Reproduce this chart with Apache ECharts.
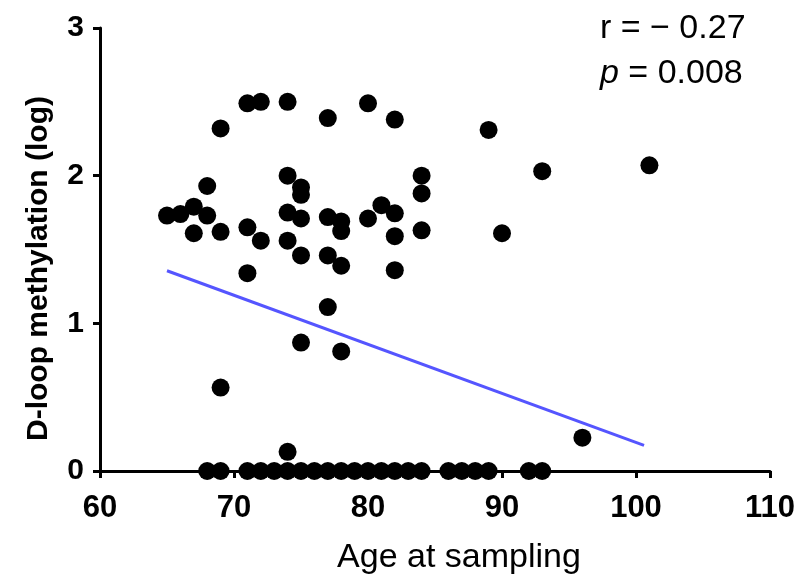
<!DOCTYPE html>
<html><head><meta charset="utf-8">
<script src="https://cdn.jsdelivr.net/npm/echarts@6/dist/echarts.min.js"></script>
<style>html,body{margin:0;padding:0;background:#fff}#c{width:798px;height:575px}</style>
</head><body><div id="c"></div>
<script>
const ages = [71,72,74,69,77,80,82,89,93,101,
  68,74,75,75,84,84,81,82,80,
  65,66,67,68,67,69,71,72,74,75,74,75,77,78,78,77,78,71,77,75,78,69,74,
  84,82,82,90,96,
  68,69,71,72,73,74,75,76,77,78,79,80,81,82,83,84,86,87,88,89,92,93];
const methylation = [2.49,2.50,2.50,2.32,2.39,2.49,2.38,2.31,2.03,2.07,
  1.93,2.00,1.92,1.87,2.00,1.88,1.80,1.745,1.71,
  1.73,1.74,1.79,1.73,1.61,1.62,1.65,1.56,1.75,1.71,1.56,1.46,1.72,1.69,1.625,1.46,1.39,1.34,1.11,0.87,0.81,0.565,0.13,
  1.63,1.59,1.36,1.61,0.226,
  0,0,0,0,0,0,0,0,0,0,0,0,0,0,0,0,0,0,0,0,0,0];
const fitX = [65, 100.6];
const fitY = [1.356, 0.174];
const xTicks = [60,70,80,90,100,110];
const yTicks = [0,1,2,3];

const font = '"Liberation Sans", Arial, sans-serif';
const chart = echarts.init(document.getElementById('c'));
chart.setOption({
  animation:false,
  grid:{left:100,right:28,top:28,bottom:104,containLabel:false,outerBoundsMode:'none'},
  xAxis:{type:'value',min:xTicks[0],max:xTicks[xTicks.length-1],interval:10,
    name:'Age at sampling',nameLocation:'middle',nameGap:70,
    nameTextStyle:{fontFamily:font,fontSize:34,color:'#000',padding:[0,0,0,48]},
    axisLine:{lineStyle:{color:'#000',width:3}},
    axisTick:{length:7,lineStyle:{color:'#000',width:3}},
    axisLabel:{fontFamily:font,fontSize:31,fontWeight:'bold',color:'#000',margin:22},
    splitLine:{show:false}},
  yAxis:{type:'value',min:yTicks[0],max:yTicks[yTicks.length-1],interval:1,
    name:'D-loop methylation (log)',nameLocation:'middle',nameGap:46,nameRotate:90,
    nameTextStyle:{fontFamily:font,fontSize:30,fontWeight:'bold',color:'#000',padding:[0,38,0,0]},
    axisLine:{show:true,lineStyle:{color:'#000',width:3}},
    axisTick:{show:true,length:7,lineStyle:{color:'#000',width:3}},
    axisLabel:{fontFamily:font,fontSize:30,fontWeight:'bold',color:'#000',margin:16},
    splitLine:{show:false}},
  graphic:[
    {type:'text',left:600,top:12,style:{text:'r = \u2212 0.27',fontFamily:font,fontSize:34,fill:'#000'}},
    {type:'text',left:600,top:57,style:{text:'{i|p} = 0.008',fontFamily:font,fontSize:34,fill:'#000',
      rich:{i:{fontStyle:'italic',fontFamily:font,fontSize:34}}}}
  ],
  series:[
    {type:'scatter',data:ages.map((a,i)=>[a,methylation[i]]),symbolSize:18,
      itemStyle:{color:'#000',opacity:1},z:3},
    {type:'line',data:fitX.map((a,i)=>[a,fitY[i]]),symbol:'none',
      lineStyle:{color:'#5555ff',width:3},z:2}
  ]
});
</script></body></html>
